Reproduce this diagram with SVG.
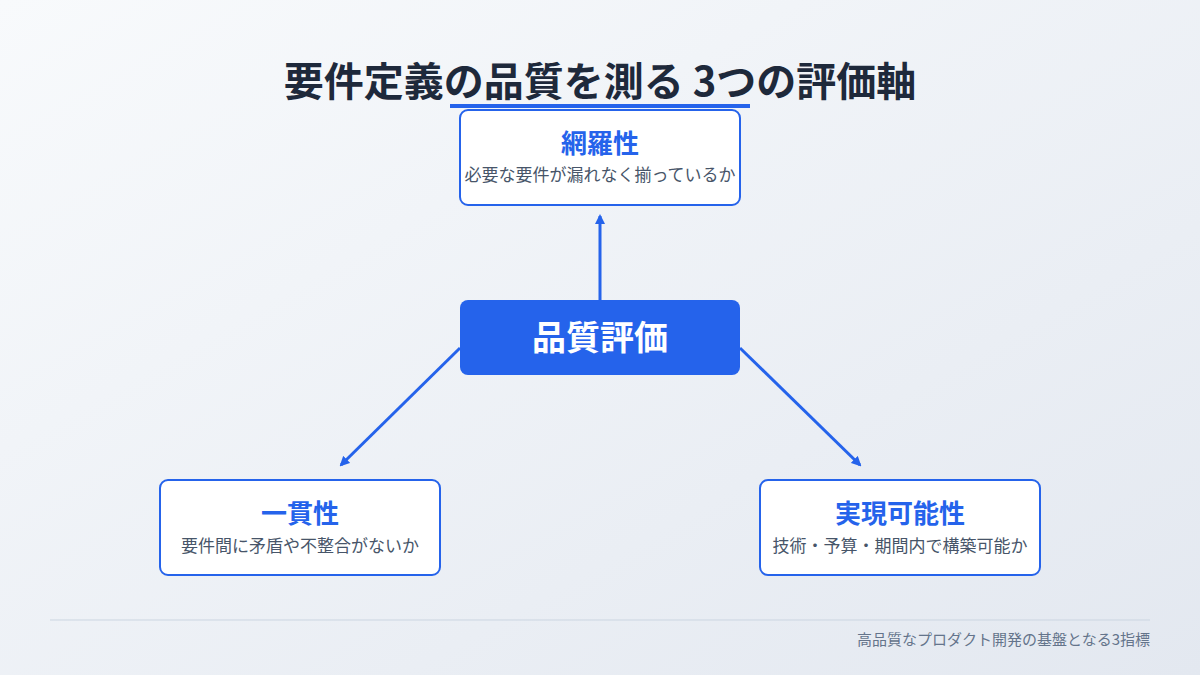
<svg xmlns="http://www.w3.org/2000/svg" width="1200" height="675" viewBox="0 0 1200 675">
<defs>
<linearGradient id="bg" x1="0" y1="0" x2="1" y2="1"><stop offset="0" stop-color="#f8fafc"/><stop offset="1" stop-color="#e3e8f0"/></linearGradient>
<marker id="ah" markerWidth="10" markerHeight="10" refX="8" refY="5" orient="auto" markerUnits="userSpaceOnUse" viewBox="0 0 10 10"><path d="M0,0 L10,5 L0,10 z" fill="#2563eb"/></marker>
<style>
text{font-family:"Noto Sans CJK JP","Noto Sans",sans-serif}
.box{fill:#fff;stroke:#2563eb;stroke-width:2}
.t{font-size:26px;font-weight:700;fill:#2563eb;text-anchor:middle}
.s{font-size:17px;fill:#475569;text-anchor:middle}
.c{stroke:#2563eb;stroke-width:3;fill:none;marker-end:url(#ah)}
</style>
</defs>
<rect width="1200" height="675" fill="url(#bg)"/>
<text x="600" y="96" font-size="40" font-weight="700" fill="#1e293b" text-anchor="middle">要件定義の品質を測る 3つの評価軸</text>
<rect x="450" y="104" width="300" height="4" fill="#2563eb"/>
<g id="connectors">
<line class="c" x1="600" y1="300" x2="600" y2="216"/>
<line class="c" x1="460" y1="348" x2="341" y2="465"/>
<line class="c" x1="740" y1="348" x2="860" y2="465"/>
</g>
<g id="n-top"><rect class="box" x="460" y="110" width="280" height="95" rx="8"/><text class="t" x="600" y="153">網羅性</text><text class="s" x="600" y="181">必要な要件が漏れなく揃っているか</text></g>
<g id="n-center"><rect x="460" y="300" width="280" height="75" rx="8" fill="#2563eb"/><text x="600" y="350" font-size="34" font-weight="700" fill="#fff" text-anchor="middle">品質評価</text></g>
<g id="n-left"><rect class="box" x="160" y="480" width="280" height="95" rx="8"/><text class="t" x="300" y="523">一貫性</text><text class="s" x="300" y="552">要件間に矛盾や不整合がないか</text></g>
<g id="n-right"><rect class="box" x="760" y="480" width="280" height="95" rx="8"/><text class="t" x="900" y="523">実現可能性</text><text class="s" x="900" y="552">技術・予算・期間内で構築可能か</text></g>
<line x1="50" y1="620" x2="1150" y2="620" stroke="#cbd5e1" stroke-width="1"/>
<text x="1150" y="645" font-size="15" fill="#64748b" text-anchor="end">高品質なプロダクト開発の基盤となる3指標</text>
</svg>
